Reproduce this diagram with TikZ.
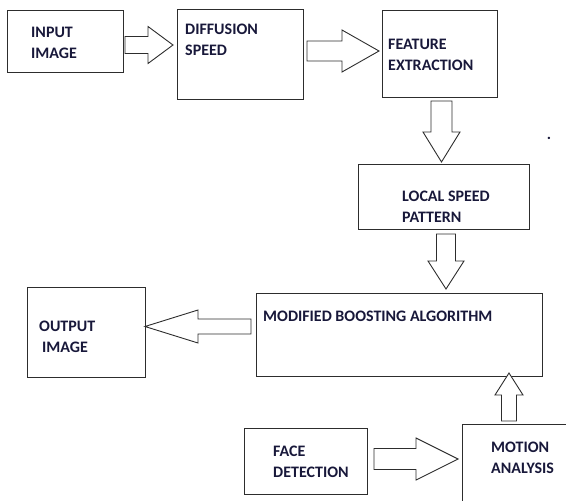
\documentclass[tikz,border=0pt]{standalone}
\usepackage{fontspec}
\setmainfont{Carlito}
\usetikzlibrary{calc,positioning}

\definecolor{txtcol}{RGB}{24,24,58}
\definecolor{edgecol}{RGB}{45,45,45}

\tikzset{
	box/.style={draw=edgecol, line width=1pt, rectangle, inner sep=0pt, anchor=north west},
	lbl/.style={text=txtcol, font=\fontsize{16}{20.5}\selectfont\bfseries, align=left, anchor=base west, inner sep=0pt},
	% shaft half width, head half width, head length
	fatarrow/.style n args={3}{draw=edgecol, line width=.9pt, fill=white, line join=miter,
		to path={
			($(\tikztostart)!#1pt!90:(\tikztotarget)$)
			-- ($(\tikztotarget)!#3pt!(\tikztostart)!#1pt!90:(\tikztotarget)$)
			-- ($(\tikztotarget)!#3pt!(\tikztostart)!#2pt!90:(\tikztotarget)$)
			-- (\tikztotarget)
			-- ($(\tikztotarget)!#3pt!(\tikztostart)!#2pt!-90:(\tikztotarget)$)
			-- ($(\tikztotarget)!#3pt!(\tikztostart)!#1pt!-90:(\tikztotarget)$)
			-- ($(\tikztostart)!#1pt!-90:(\tikztotarget)$)
			-- cycle}}
}

\begin{document}
\begin{tikzpicture}[x=1pt, y=-1pt]
	\useasboundingbox (0,0) rectangle (566,501);
	\clip (0,0) rectangle (566,501);

	% blocks
	\node[box, minimum width=116pt, minimum height=62pt] (inp) at (7,10) {};
	\node[box, minimum width=126pt, minimum height=90pt] (dif) at (177,9) {};
	\node[box, minimum width=115pt, minimum height=87pt] (fea) at (382,10) {};
	\node[box, minimum width=171pt, minimum height=65pt] (loc) at (358,164) {};
	\node[box, minimum width=286pt, minimum height=83pt] (mod) at (256,293) {};
	\node[box, minimum width=118pt, minimum height=90pt] (outp) at (27,287) {};
	\node[box, minimum width=123pt, minimum height=66pt] (face) at (244,428) {};
	\node[box, minimum width=150pt, minimum height=120pt] (mot) at (462,424) {};

	% texts (base = last line)
	\node[lbl] (inpT) at (31,58) {INPUT\\IMAGE};
	\node[lbl] (difT) at (185,55) {DIFFUSION\\SPEED};
	\node[lbl] (feaT) at (388,70) {FEATURE\\EXTRACTION};
	\node[lbl] (locT) at (402,222) {LOCAL SPEED\\PATTERN};
	\node[lbl] (modT) at (263,321) {MODIFIED BOOSTING ALGORITHM};
	\node[lbl] (outpT) at (39,352) {OUTPUT\\\hspace{3pt}IMAGE};
	\node[lbl] (faceT) at (273,477) {FACE\\DETECTION};
	\node[lbl] (motT) at (491,473) {MOTION\\ANALYSIS};
	\node[lbl, anchor=base] (stray) at (549,139) {.};

	% arrow ends
	\coordinate (a1s) at (125,45);   \coordinate (a1e) at (173,45);
	\coordinate (a2s) at (307,51);   \coordinate (a2e) at (379,51);
	\coordinate (a3s) at (441.5,101); \coordinate (a3e) at (441.5,162);
	\coordinate (a4s) at (446,234);  \coordinate (a4e) at (446,289);
	\coordinate (a5s) at (251,326.5); \coordinate (a5e) at (145,326.5);
	\coordinate (a6s) at (509,421);  \coordinate (a6e) at (509,373);
	\coordinate (a7s) at (374,459);  \coordinate (a7e) at (458,459);

	\path
	(a1s) edge[fatarrow={8.5}{18.5}{25}] (a1e)
	(a2s) edge[fatarrow={10}{21}{37}] (a2e)
	(a3s) edge[fatarrow={10.5}{18.5}{30}] (a3e)
	(a4s) edge[fatarrow={9.5}{18}{28}] (a4e)
	(a5s) edge[fatarrow={7.5}{16.5}{53}] (a5e)
	(a6s) edge[fatarrow={7.5}{14}{22}] (a6e)
	(a7s) edge[fatarrow={10.5}{21}{42}] (a7e)
	;
\end{tikzpicture}
\end{document}
